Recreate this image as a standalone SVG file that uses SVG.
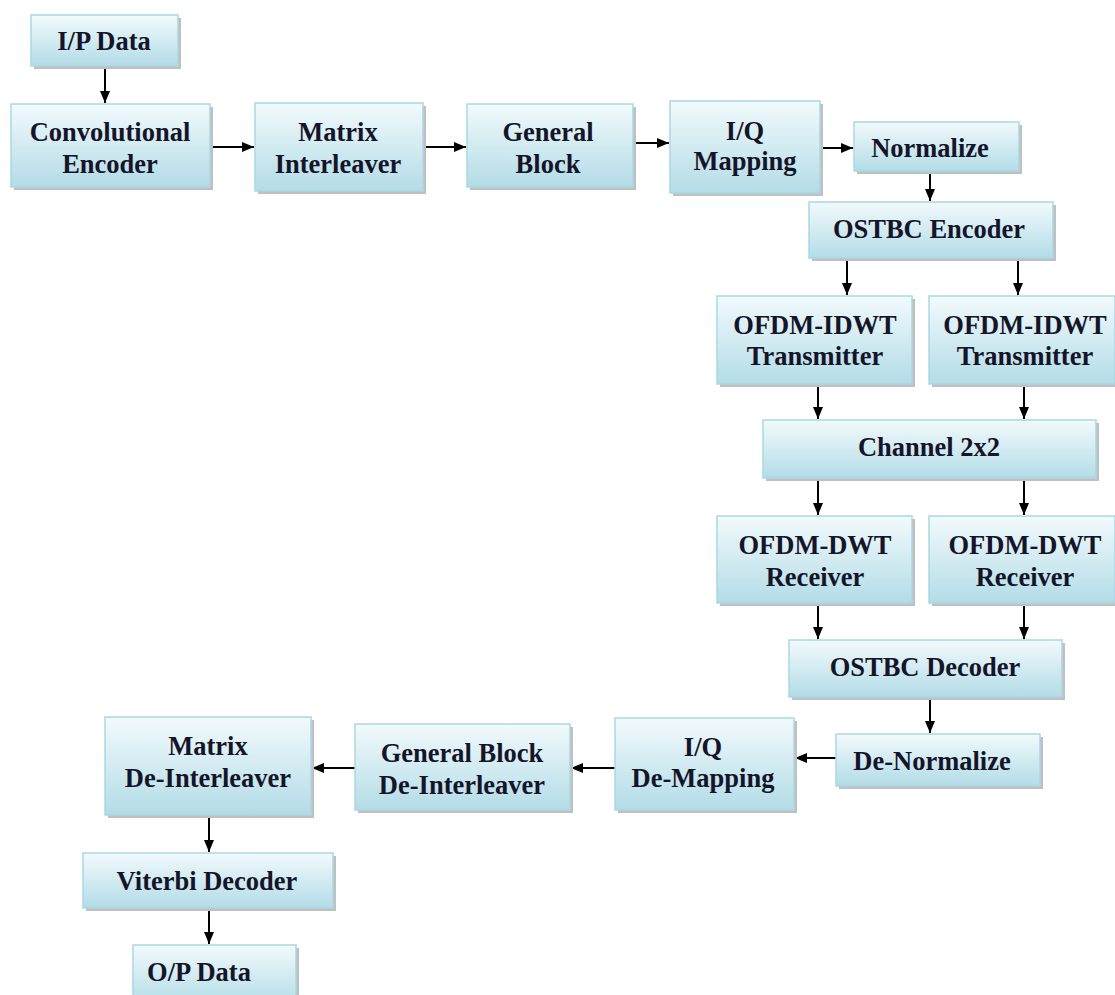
<svg xmlns="http://www.w3.org/2000/svg" width="1115" height="995" viewBox="0 0 1115 995">
<defs>
<linearGradient id="g" x1="0" y1="0" x2="0" y2="1">
<stop offset="0" stop-color="#f2fafc"/>
<stop offset="1" stop-color="#b3dce7"/>
</linearGradient>
<marker id="ah" viewBox="0 0 12 10" refX="12" refY="5" markerWidth="12" markerHeight="10" markerUnits="userSpaceOnUse" orient="auto">
<path d="M0,0 L12,5 L0,10 z" fill="#000"/>
</marker>
</defs>
<style>
.box{fill:url(#g);stroke:#a9d7e4;stroke-width:1.5}
.sh{fill:#c0c0c0}
.t{font-family:"Liberation Serif","Times New Roman",serif;font-weight:bold;font-size:26.5px;fill:#15152a;text-anchor:middle}
.c{stroke:#000;stroke-width:2;fill:none;marker-end:url(#ah)}
</style>
<rect width="1115" height="995" fill="#fff"/>
<g id="connectors">
<line class="c" x1="105" y1="66" x2="105" y2="103"/>
<line class="c" x1="210" y1="147" x2="254" y2="147"/>
<line class="c" x1="423" y1="147" x2="466" y2="147"/>
<line class="c" x1="633" y1="143" x2="669" y2="143"/>
<line class="c" x1="820" y1="148" x2="853" y2="148"/>
<line class="c" x1="930" y1="171" x2="930" y2="201"/>
<line class="c" x1="847" y1="258" x2="847" y2="295"/>
<line class="c" x1="1018" y1="258" x2="1018" y2="295"/>
<line class="c" x1="818" y1="384" x2="818" y2="419"/>
<line class="c" x1="1024" y1="384" x2="1024" y2="419"/>
<line class="c" x1="818" y1="478" x2="818" y2="515"/>
<line class="c" x1="1024" y1="478" x2="1024" y2="515"/>
<line class="c" x1="818" y1="603" x2="818" y2="639"/>
<line class="c" x1="1024" y1="603" x2="1024" y2="639"/>
<line class="c" x1="930" y1="697" x2="930" y2="733"/>
<line class="c" x1="836" y1="758" x2="795" y2="758"/>
<line class="c" x1="615" y1="768" x2="571" y2="768"/>
<line class="c" x1="355" y1="768" x2="312" y2="768"/>
<line class="c" x1="209" y1="815" x2="209" y2="852"/>
<line class="c" x1="209" y1="908" x2="209" y2="944"/>
</g>
<g id="n1"><rect class="sh" x="34" y="18" width="147" height="51"/><rect class="box" x="31" y="15" width="147" height="51"/><text class="t" x="104" y="50">I/P Data</text></g>
<g id="n2"><rect class="sh" x="14" y="107" width="199" height="83"/><rect class="box" x="11" y="104" width="199" height="83"/><text class="t" x="110" y="141">Convolutional</text><text class="t" x="110" y="173">Encoder</text></g>
<g id="n3"><rect class="sh" x="258" y="106" width="168" height="88"/><rect class="box" x="255" y="103" width="168" height="88"/><text class="t" x="338" y="141">Matrix</text><text class="t" x="338" y="173">Interleaver</text></g>
<g id="n4"><rect class="sh" x="470" y="107" width="166" height="83"/><rect class="box" x="467" y="104" width="166" height="83"/><text class="t" x="548" y="141">General</text><text class="t" x="548" y="173">Block</text></g>
<g id="n5"><rect class="sh" x="673" y="104" width="150" height="92"/><rect class="box" x="670" y="101" width="150" height="92"/><text class="t" x="745" y="140">I/Q</text><text class="t" x="745" y="170">Mapping</text></g>
<g id="n6"><rect class="sh" x="857" y="125" width="165" height="49"/><rect class="box" x="854" y="122" width="165" height="49"/><text class="t" x="930" y="157">Normalize</text></g>
<g id="n7"><rect class="sh" x="812" y="205" width="244" height="56"/><rect class="box" x="809" y="202" width="244" height="56"/><text class="t" x="929" y="238">OSTBC Encoder</text></g>
<g id="n8"><rect class="sh" x="720" y="299" width="195" height="88"/><rect class="box" x="717" y="296" width="195" height="88"/><text class="t" x="815" y="334">OFDM-IDWT</text><text class="t" x="815" y="365">Transmitter</text></g>
<g id="n9"><rect class="sh" x="932" y="299" width="186" height="88"/><rect class="box" x="929" y="296" width="186" height="88"/><text class="t" x="1025" y="334">OFDM-IDWT</text><text class="t" x="1025" y="365">Transmitter</text></g>
<g id="n10"><rect class="sh" x="766" y="423" width="333" height="58"/><rect class="box" x="763" y="420" width="333" height="58"/><text class="t" x="929" y="456">Channel 2x2</text></g>
<g id="n11"><rect class="sh" x="720" y="519" width="195" height="87"/><rect class="box" x="717" y="516" width="195" height="87"/><text class="t" x="815" y="554">OFDM-DWT</text><text class="t" x="815" y="586">Receiver</text></g>
<g id="n12"><rect class="sh" x="932" y="519" width="186" height="87"/><rect class="box" x="929" y="516" width="186" height="87"/><text class="t" x="1025" y="554">OFDM-DWT</text><text class="t" x="1025" y="586">Receiver</text></g>
<g id="n13"><rect class="sh" x="792" y="643" width="273" height="57"/><rect class="box" x="789" y="640" width="273" height="57"/><text class="t" x="925" y="676">OSTBC Decoder</text></g>
<g id="n14"><rect class="sh" x="839" y="737" width="204" height="52"/><rect class="box" x="836" y="734" width="204" height="52"/><text class="t" x="932" y="770">De-Normalize</text></g>
<g id="n15"><rect class="sh" x="618" y="721" width="179" height="92"/><rect class="box" x="615" y="718" width="179" height="92"/><text class="t" x="703" y="756">I/Q</text><text class="t" x="703" y="787">De-Mapping</text></g>
<g id="n16"><rect class="sh" x="358" y="727" width="215" height="86"/><rect class="box" x="355" y="724" width="215" height="86"/><text class="t" x="462" y="762">General Block</text><text class="t" x="462" y="794">De-Interleaver</text></g>
<g id="n17"><rect class="sh" x="108" y="720" width="206" height="98"/><rect class="box" x="105" y="717" width="206" height="98"/><text class="t" x="208" y="755">Matrix</text><text class="t" x="208" y="787">De-Interleaver</text></g>
<g id="n18"><rect class="sh" x="86" y="856" width="250" height="55"/><rect class="box" x="83" y="853" width="250" height="55"/><text class="t" x="207" y="890">Viterbi Decoder</text></g>
<g id="n19"><rect class="sh" x="136" y="948" width="163" height="60"/><rect class="box" x="133" y="945" width="163" height="60"/><text class="t" x="199" y="981">O/P Data</text></g>
</svg>
